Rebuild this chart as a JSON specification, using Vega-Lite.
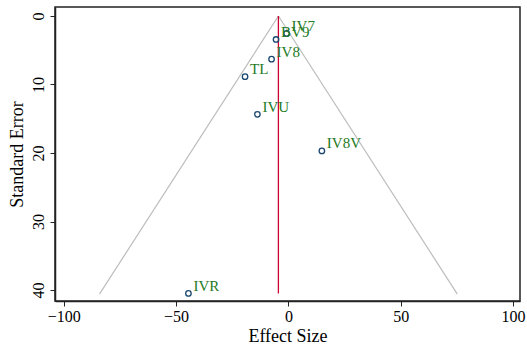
{
  "$schema": "https://vega.github.io/schema/vega-lite/v6.json",
  "width": 465,
  "height": 294,
  "autosize": {"type": "none"},
  "padding": {"left": 55, "top": 7, "right": 7, "bottom": 50},
  "background": "white",
  "config": {
    "font": "Liberation Serif",
    "view": {"stroke": "#222222", "strokeWidth": 1.5},
    "axis": {"grid": false, "domainColor": "#222222", "domainWidth": 1.5, "tickColor": "#222222", "tickSize": 5, "labelColor": "black", "titleColor": "black", "labelFont": "Liberation Serif", "titleFont": "Liberation Serif", "titleFontWeight": "normal"}
  },
  "datasets": {
    "studies": [
      {"study": "IV7", "effect": -0.8, "se": 2.55},
      {"study": "BV9", "effect": -5.5, "se": 3.43},
      {"study": "IV8", "effect": -7.5, "se": 6.3},
      {"study": "TL", "effect": -19.3, "se": 8.86},
      {"study": "IVU", "effect": -13.8, "se": 14.35},
      {"study": "IV8V", "effect": 14.9, "se": 19.7},
      {"study": "IVR", "effect": -44.5, "se": 40.5}
    ],
    "funnel": [
      {"side": "lower", "effect": -4.45, "se": 0},
      {"side": "lower", "effect": -84.1, "se": 40.6},
      {"side": "upper", "effect": -4.45, "se": 0},
      {"side": "upper", "effect": 75.2, "se": 40.6}
    ],
    "pooled": [
      {"effect": -4.45, "se0": 0, "se1": 40.5}
    ]
  },
  "layer": [
    {
      "data": {"name": "funnel"},
      "mark": {"type": "line", "color": "#bdbdbd", "strokeWidth": 1.2},
      "encoding": {
        "x": {"field": "effect", "type": "quantitative", "scale": {"domain": [-103.9, 103.1], "nice": false, "zero": false},
          "axis": {"values": [-100, -50, 0, 50, 100], "title": "Effect Size", "labelFont": "Liberation Serif", "titleFont": "Liberation Serif", "titleFontWeight": "normal", "labelFontSize": 16, "titleFontSize": 18, "labelPadding": 2, "titlePadding": 3, "labelFlush": false}},
        "y": {"field": "se", "type": "quantitative", "scale": {"domain": [-1.31, 41.6], "nice": false, "zero": false, "reverse": true},
          "axis": {"values": [0, 10, 20, 30, 40], "title": "Standard Error", "labelFont": "Liberation Serif", "titleFont": "Liberation Serif", "titleFontWeight": "normal", "labelAngle": -90, "labelAlign": "center", "labelBaseline": "bottom", "labelFontSize": 16, "titleFontSize": 18, "labelPadding": 4, "titlePadding": 4, "labelFlush": false}},
        "detail": {"field": "side"}
      }
    },
    {
      "data": {"name": "pooled"},
      "mark": {"type": "rule", "color": "#cc0033", "strokeWidth": 1.3},
      "encoding": {
        "x": {"field": "effect", "type": "quantitative"},
        "y": {"field": "se0", "type": "quantitative"},
        "y2": {"field": "se1"}
      }
    },
    {
      "data": {"name": "studies"},
      "mark": {"type": "point", "shape": "circle", "filled": false, "color": "#1a476f", "size": 30, "strokeWidth": 1.3, "opacity": 1},
      "encoding": {
        "x": {"field": "effect", "type": "quantitative"},
        "y": {"field": "se", "type": "quantitative"}
      }
    },
    {
      "data": {"name": "studies"},
      "mark": {"type": "text", "align": "left", "baseline": "alphabetic", "dx": 5, "dy": -2.5, "fontSize": 15, "color": "#237a23", "font": "Liberation Serif"},
      "encoding": {
        "x": {"field": "effect", "type": "quantitative"},
        "y": {"field": "se", "type": "quantitative"},
        "text": {"field": "study"}
      }
    }
  ]
}
